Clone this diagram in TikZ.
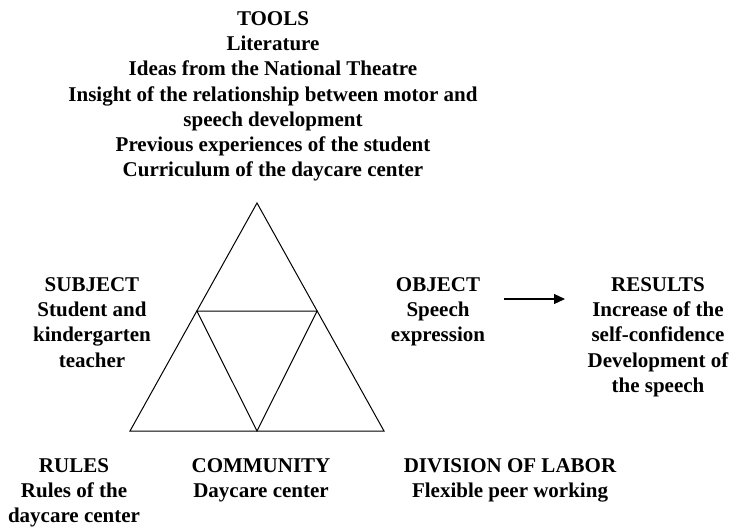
\documentclass[tikz,border=0pt]{standalone}
\usepackage{fontspec}
\setmainfont{Liberation Serif}
\usetikzlibrary{arrows.meta,calc}
\begin{document}
\begin{tikzpicture}[x=1pt,y=-1pt,
  lbl/.style={align=center,anchor=north,inner sep=0pt,font=\bfseries\fontsize{21}{25.3}\selectfont},
  edge/.style={line width=1pt,line join=miter}]
\useasboundingbox (0,0) rectangle (746,528);
% triangle
\coordinate (A) at (257,203);
\coordinate (L) at (130,431);
\coordinate (R) at (384,431);
\coordinate (ML) at ($(A)!0.4737!(L)$);
\coordinate (MR) at ($(A)!0.4737!(R)$);
\coordinate (MB) at (257,431);
\draw[edge] (A) -- (L) -- (R) -- cycle;
\draw[edge] (ML) -- (MR) -- (MB) -- cycle;
% labels
\node[lbl] (tools) at (273,11) {TOOLS\\Literature\\Ideas from the National Theatre\\Insight of the relationship between motor and\\speech development\\Previous experiences of the student\\Curriculum of the daycare center};
\node[lbl] (subject) at (92,277) {SUBJECT\\Student and\\kindergarten\\teacher};
\node[lbl] (object) at (438,277) {OBJECT\\Speech\\expression};
\node[lbl] (results) at (658,277) {RESULTS\\Increase of the\\self-confidence\\Development of\\the speech};
\node[lbl] (rules) at (74,458) {RULES\\Rules of the\\daycare center};
\node[lbl] (community) at (261,458) {COMMUNITY\\Daycare center};
\node[lbl] (division) at (510,458) {DIVISION OF LABOR\\Flexible peer working};
\coordinate (arS) at (504,299);
\coordinate (arE) at (565,299);
\draw[line width=1.2pt,-{Triangle[length=11pt,width=10pt]}] (arS) -- (arE);
\end{tikzpicture}
\end{document}
